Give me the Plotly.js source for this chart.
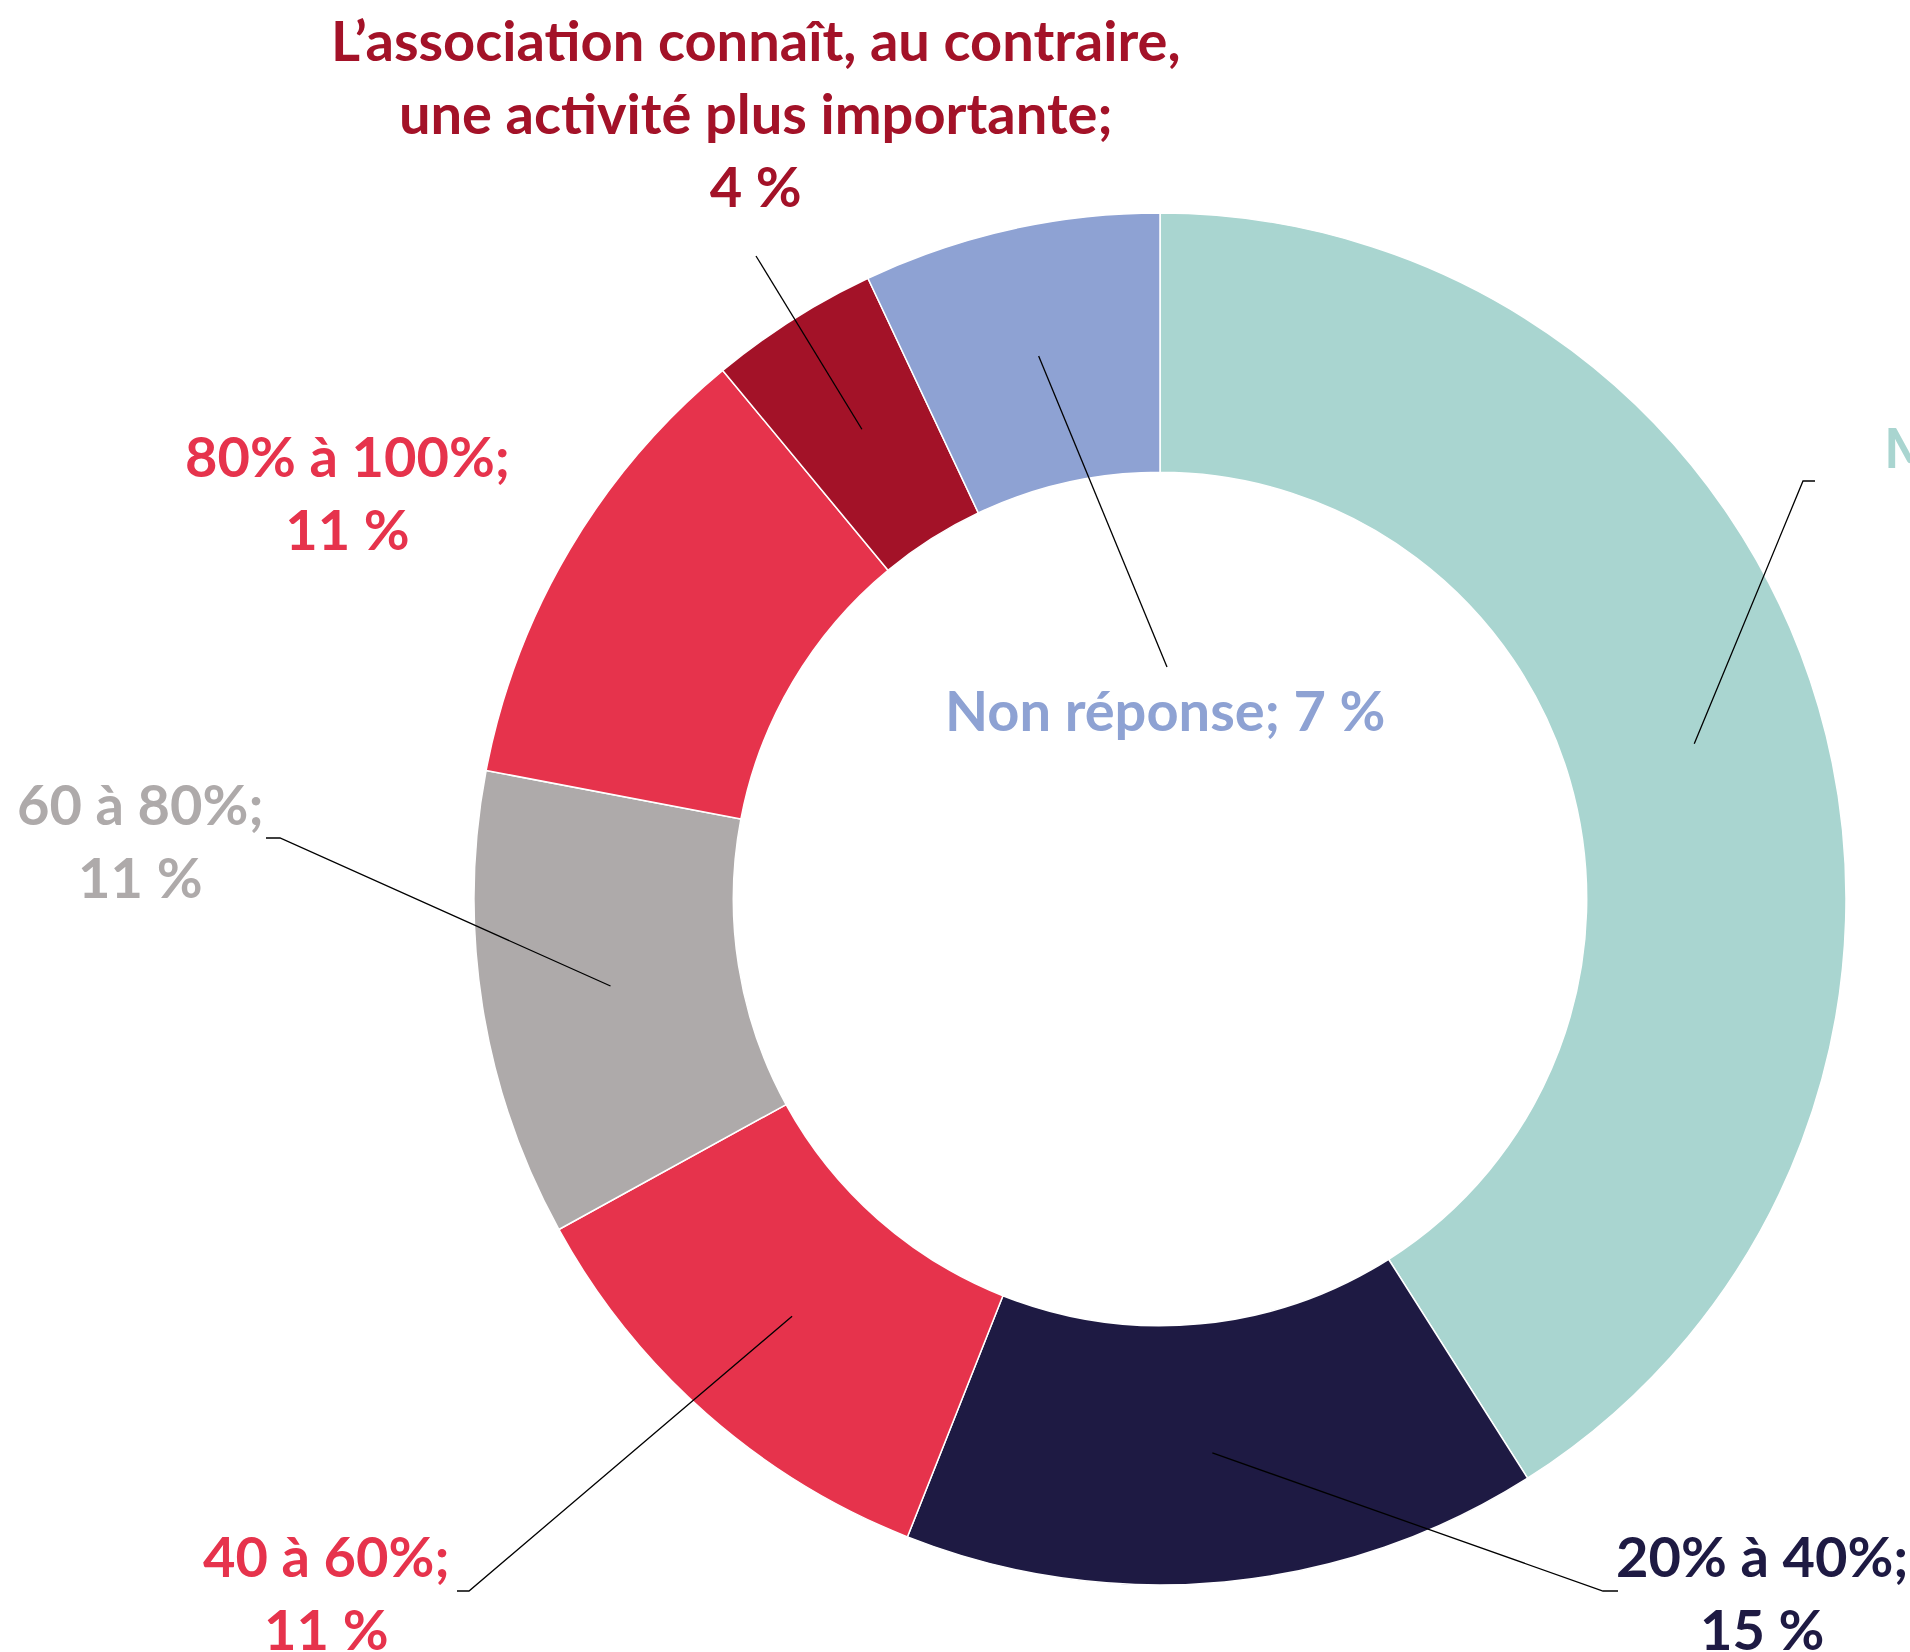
<!DOCTYPE html>
<html>
<head>
<meta charset="utf-8">
<script src="https://cdn.plot.ly/plotly-3.0.1.min.js"></script>
<style>
  html, body { margin: 0; padding: 0; background: #ffffff; overflow: hidden; }
  #chart { width: 1910px; height: 1652px; }
</style>
</head>
<body>
<div id="chart"></div>
<script>
// ---- data ----
const categories = [
  "Moins de 20%",
  "20% à 40%",
  "40 à 60%",
  "60 à 80%",
  "80% à 100%",
  "L\u2019association connaît, au contraire,<br>une activité plus importante",
  "Non réponse"
];
const values = [41, 15, 11, 11, 11, 4, 7];
const colors = ["#A9D5D0", "#1E1A43", "#E6334C", "#AEAAAA", "#E6334C", "#A31228", "#8EA2D3"];

// ---- layout geometry (pixels) ----
const W = 1910, H = 1652;
const cx = 1160, cy = 899, R = 686;
const hole = 0.622;

// label placement: centre/edge of text block and leader-line path end points
const labelPlacement = [
  { x: 1882, y: 483, xanchor: "left",   path: [[1803, 481], [1815, 481]] },
  { x: 1762, y: 1592, xanchor: "center", path: [[1603, 1591], [1618, 1591]] },
  { x: 326,  y: 1592, xanchor: "center", path: [[469, 1591], [457, 1591]] },
  { x: 140,  y: 840,  xanchor: "center", path: [[280, 838], [266, 838]] },
  { x: 347,  y: 492,  xanchor: "center", path: null },
  { x: 756,  y: 112,  xanchor: "center", path: [[756, 256]] },
  { x: 1165, y: 710,  xanchor: "center", path: [[1167, 667]] }
];

const px = x => x / W;
const py = y => 1 - y / H;

const total = values.reduce((a, b) => a + b, 0);
const rMid = R * (1 + hole) / 2;
let cum = 0;
const shapes = [];
const annotations = [];
values.forEach((v, i) => {
  const mid = (cum + v / 2) / total * 2 * Math.PI;
  cum += v;
  const ax = cx + rMid * Math.sin(mid);
  const ay = cy - rMid * Math.cos(mid);
  const lp = labelPlacement[i];
  if (lp.path) {
    let d = "M " + px(ax) + " " + py(ay);
    lp.path.forEach(p => { d += " L " + px(p[0]) + " " + py(p[1]); });
    shapes.push({
      type: "path", xref: "paper", yref: "paper", path: d,
      line: { color: "#000000", width: 1.3 }
    });
  }
  annotations.push({
    xref: "paper", yref: "paper",
    x: px(lp.x), y: py(lp.y),
    xanchor: lp.xanchor, yanchor: "middle",
    align: "center",
    showarrow: false,
    text: categories[i] + ";" + (i === 6 ? " " : "<br>") + v + " %",
    font: { family: "Lato, 'Open Sans', sans-serif", size: 56, color: colors[i], weight: "bold" }
  });
});

const trace = {
  type: "pie",
  labels: categories,
  values: values,
  hole: hole,
  sort: false,
  direction: "clockwise",
  rotation: 0,
  textinfo: "none",
  hoverinfo: "none",
  showlegend: false,
  marker: { colors: colors, line: { color: "#ffffff", width: 1.5 } },
  domain: { x: [px(cx - R), px(cx + R)], y: [py(cy + R), py(cy - R)] }
};

const layout = {
  width: W, height: H,
  margin: { l: 0, r: 0, t: 0, b: 0 },
  paper_bgcolor: "#ffffff",
  showlegend: false,
  shapes: shapes,
  annotations: annotations
};

Plotly.newPlot("chart", [trace], layout, { displayModeBar: false, staticPlot: true });
</script>
</body>
</html>
